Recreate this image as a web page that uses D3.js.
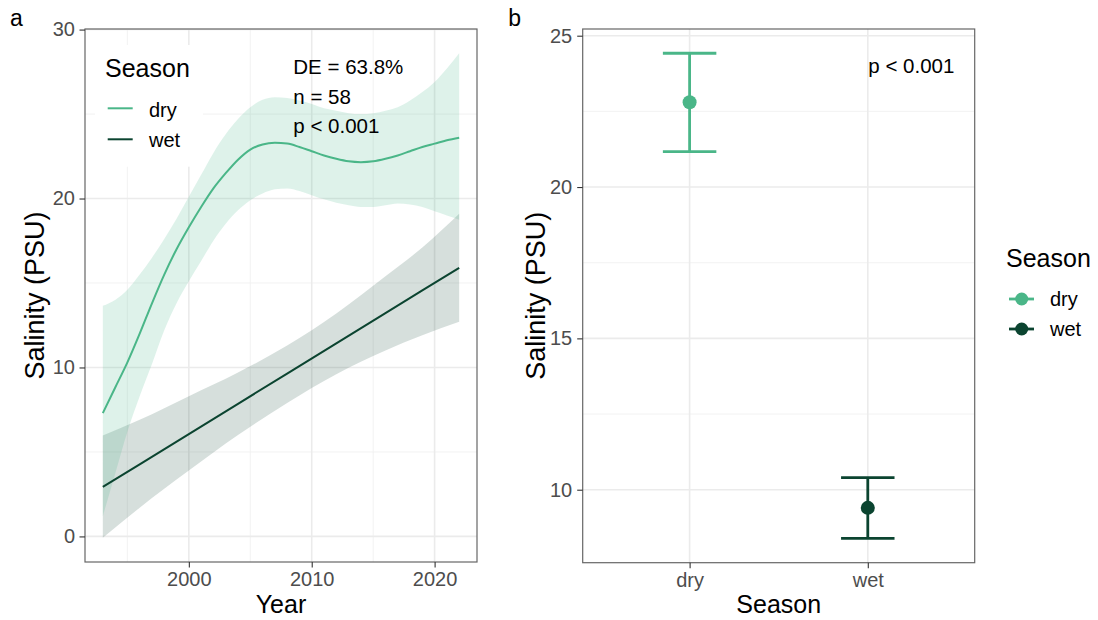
<!DOCTYPE html>
<html>
<head>
<meta charset="utf-8">
<script src="https://cdn.jsdelivr.net/npm/d3@7"></script>
<style>
  body { margin: 0; background: #fff; }
  svg text { font-family: "Liberation Sans", Arial, sans-serif; }
</style>
</head>
<body>
<div id="chart"></div>
<script>
// ---- panel a: salinity trend by year (loess for dry, linear for wet) ----
const years = [1993, 1994, 1995, 1996, 1997, 1998, 1999, 2000, 2001, 2002,
               2003, 2004, 2005, 2006, 2007, 2008, 2009, 2010, 2011, 2012,
               2013, 2014, 2015, 2016, 2017, 2018, 2019, 2020, 2021, 2022];
const dryFit = [7.3, 8.8, 10.3, 12.0, 13.8, 15.5, 17.0, 18.3, 19.5, 20.6,
                21.5, 22.3, 22.9, 23.2, 23.3, 23.25, 23.05, 22.8, 22.55, 22.35,
                22.2, 22.15, 22.2, 22.35, 22.55, 22.8, 23.05, 23.25, 23.45, 23.6];
const dryLower = [1.2, 3.7, 6.2, 8.3, 10.2, 12.2, 13.8, 15.1, 16.3, 17.5,
                  18.5, 19.3, 19.9, 20.3, 20.55, 20.6, 20.45, 20.2, 19.95, 19.75,
                  19.6, 19.5, 19.5, 19.6, 19.7, 19.65, 19.5, 19.25, 19.0, 18.75];
const dryUpper = [13.65, 14.0, 14.6, 15.5, 16.5, 17.6, 18.8, 20.1, 21.4, 22.7,
                  23.8, 24.7, 25.4, 25.85, 26.0, 25.95, 25.8, 25.6, 25.35, 25.2,
                  25.05, 25.0, 25.05, 25.2, 25.4, 25.8, 26.3, 26.9, 27.7, 28.6];

const wetYears = [1993, 1996, 2000, 2004, 2008, 2012, 2016, 2019, 2022];
const wetFit = [2.93, 4.27, 6.06, 7.85, 9.64, 11.43, 13.22, 14.56, 15.9];
const wetLower = [-0.08, 1.7, 3.9, 6.0, 7.9, 9.6, 11.0, 11.9, 12.7];
const wetUpper = [5.97, 6.9, 8.3, 9.7, 11.3, 13.2, 15.4, 17.1, 19.1];

const yearTicks = [2000, 2010, 2020];
const yearMinor = [1995, 2005, 2015];
const salTicksA = [0, 10, 20, 30];
const salMinorA = [5, 15, 25];
const statsA = ["DE = 63.8%", "n = 58", "p < 0.001"];

// ---- panel b: seasonal mean with error bars ----
const seasons = ["dry", "wet"];
const seasonMean = [22.8, 9.4];
const seasonLow = [21.17, 8.39];
const seasonHigh = [24.42, 10.4];
const salTicksB = [10, 15, 20, 25];
const salMinorB = [12.5, 17.5, 22.5];
const statsB = "p < 0.001";

const colors = {dry: "#4AB688", wet: "#0B4430"};

const W = 1098, H = 620;
const svg = d3.select("#chart").append("svg")
    .attr("width", W)
    .attr("height", H);

// 5% expansion like ggplot
function expand(ext, f) {
    const d = (ext[1] - ext[0]) * f;
    return [ext[0] - d, ext[1] + d];
}

function styleAxis(g) {
    g.select(".domain").remove();
    g.selectAll("line").attr("stroke", "#333").attr("stroke-width", 1.1);
    g.selectAll("text").attr("fill", "#4D4D4D").attr("font-size", 20);
}

function grid(box, xs, ys, xMajor, xMinor, yMajor, yMinor) {
    const g = svg.append("g");
    xMinor.forEach(v => g.append("line")
        .attr("x1", xs(v)).attr("x2", xs(v)).attr("y1", box.top).attr("y2", box.bottom)
        .attr("stroke", "#F0F0F0").attr("stroke-width", 0.9));
    yMinor.forEach(v => g.append("line")
        .attr("x1", box.left).attr("x2", box.right).attr("y1", ys(v)).attr("y2", ys(v))
        .attr("stroke", "#F0F0F0").attr("stroke-width", 0.9));
    xMajor.forEach(v => g.append("line")
        .attr("x1", xs(v)).attr("x2", xs(v)).attr("y1", box.top).attr("y2", box.bottom)
        .attr("stroke", "#EBEBEB").attr("stroke-width", 1.6));
    yMajor.forEach(v => g.append("line")
        .attr("x1", box.left).attr("x2", box.right).attr("y1", ys(v)).attr("y2", ys(v))
        .attr("stroke", "#EBEBEB").attr("stroke-width", 1.6));
}

function border(box) {
    svg.append("rect")
        .attr("x", box.left).attr("y", box.top)
        .attr("width", box.right - box.left).attr("height", box.bottom - box.top)
        .attr("fill", "none").attr("stroke", "#666").attr("stroke-width", 1.2);
}

// ================= panel a =================
const a = {left: 85, top: 29, right: 477, bottom: 562};

let xA = d3.scaleLinear()
    .domain(expand(d3.extent(years), 0.05))
    .range([a.left, a.right]);
let yA = d3.scaleLinear()
    .domain(expand([d3.min(dryLower.concat(wetLower)), d3.max(dryUpper.concat(wetUpper))], 0.05))
    .range([a.bottom, a.top]);

grid(a, xA, yA, yearTicks, yearMinor, salTicksA, salMinorA);

// ribbons
svg.append("path")
    .datum(wetYears)
    .attr("d", d3.area()
        .x(d => xA(d))
        .y0((d, i) => yA(wetLower[i]))
        .y1((d, i) => yA(wetUpper[i]))
        .curve(d3.curveMonotoneX))
    .attr("fill", colors.wet)
    .attr("fill-opacity", 0.17);

svg.append("path")
    .datum(years)
    .attr("d", d3.area()
        .x(d => xA(d))
        .y0((d, i) => yA(dryLower[i]))
        .y1((d, i) => yA(dryUpper[i]))
        .curve(d3.curveMonotoneX))
    .attr("fill", colors.dry)
    .attr("fill-opacity", 0.18);

// fitted lines
svg.append("path")
    .datum(wetYears)
    .attr("d", d3.line()
        .x(d => xA(d))
        .y((d, i) => yA(wetFit[i])))
    .attr("fill", "none")
    .attr("stroke", colors.wet)
    .attr("stroke-width", 2);

svg.append("path")
    .datum(years)
    .attr("d", d3.line()
        .x(d => xA(d))
        .y((d, i) => yA(dryFit[i]))
        .curve(d3.curveMonotoneX))
    .attr("fill", "none")
    .attr("stroke", colors.dry)
    .attr("stroke-width", 2);

border(a);

svg.append("g")
    .attr("transform", "translate(0," + a.bottom + ")")
    .call(d3.axisBottom(xA).tickValues(yearTicks).tickFormat(d3.format("d")).tickSize(5.5).tickPadding(4.3))
    .call(styleAxis);
svg.append("g")
    .attr("transform", "translate(" + a.left + ",0)")
    .call(d3.axisLeft(yA).tickValues(salTicksA).tickFormat(d3.format("d")).tickSize(5.5).tickPadding(4.5))
    .call(styleAxis);

// legend inside panel a
svg.append("rect")
    .attr("x", 95).attr("y", 45).attr("width", 108).attr("height", 121.7)
    .attr("fill", "#fff");
svg.append("text")
    .attr("x", 105).attr("y", 77.3)
    .attr("font-size", 25)
    .text("Season");
seasons.forEach(function(s, i) {
    svg.append("line")
        .attr("x1", 107.7).attr("x2", 132.7)
        .attr("y1", 108.3 + i * 31).attr("y2", 108.3 + i * 31)
        .attr("stroke", colors[s]).attr("stroke-width", 2);
    svg.append("text")
        .attr("x", 149).attr("y", 116.7 + i * 30.6)
        .attr("font-size", 20)
        .text(s);
});

// stats text
statsA.forEach(function(t, i) {
    svg.append("text")
        .attr("x", 293.3).attr("y", 74 + i * 29.7)
        .attr("font-size", 20.5)
        .text(t);
});

// titles
svg.append("text")
    .attr("x", (a.left + a.right) / 2).attr("y", 613.3)
    .attr("text-anchor", "middle").attr("font-size", 25)
    .text("Year");
svg.append("text")
    .attr("transform", "translate(43.5," + (a.top + a.bottom) / 2 + ") rotate(-90)")
    .attr("text-anchor", "middle").attr("font-size", 27)
    .text("Salinity (PSU)");
svg.append("text")
    .attr("x", 10).attr("y", 25.7)
    .attr("font-size", 23)
    .text("a");

// ================= panel b =================
const b = {left: 582.7, top: 29, right: 974.7, bottom: 562.7};

let xB = d3.scalePoint()
    .domain(seasons)
    .range([b.left, b.right])
    .padding(0.6);
let yB = d3.scaleLinear()
    .domain(expand([d3.min(seasonLow), d3.max(seasonHigh)], 0.05))
    .range([b.bottom, b.top]);

grid(b, xB, yB, seasons, [], salTicksB, salMinorB);

const capHalf = xB.step() * 0.15;
seasons.forEach(function(s, i) {
    const g = svg.append("g").attr("stroke", colors[s]).attr("stroke-width", 2.8);
    g.append("line")
        .attr("x1", xB(s)).attr("x2", xB(s))
        .attr("y1", yB(seasonLow[i])).attr("y2", yB(seasonHigh[i]));
    [seasonLow[i], seasonHigh[i]].forEach(v => g.append("line")
        .attr("x1", xB(s) - capHalf).attr("x2", xB(s) + capHalf)
        .attr("y1", yB(v)).attr("y2", yB(v)));
    svg.append("circle")
        .attr("cx", xB(s)).attr("cy", yB(seasonMean[i]))
        .attr("r", 7)
        .attr("fill", colors[s]);
});

border(b);

svg.append("g")
    .attr("transform", "translate(0," + b.bottom + ")")
    .call(d3.axisBottom(xB).tickSize(5.5).tickPadding(4.3))
    .call(styleAxis);
svg.append("g")
    .attr("transform", "translate(" + b.left + ",0)")
    .call(d3.axisLeft(yB).tickValues(salTicksB).tickFormat(d3.format("d")).tickSize(5.5).tickPadding(5))
    .call(styleAxis);

svg.append("text")
    .attr("x", 868.3).attr("y", 73.3)
    .attr("font-size", 20.5)
    .text(statsB);

svg.append("text")
    .attr("x", (b.left + b.right) / 2).attr("y", 613.3)
    .attr("text-anchor", "middle").attr("font-size", 25)
    .text("Season");
svg.append("text")
    .attr("transform", "translate(545," + (b.top + b.bottom) / 2 + ") rotate(-90)")
    .attr("text-anchor", "middle").attr("font-size", 27)
    .text("Salinity (PSU)");
svg.append("text")
    .attr("x", 508.3).attr("y", 25.7)
    .attr("font-size", 23)
    .text("b");

// legend for panel b
svg.append("text")
    .attr("x", 1006).attr("y", 266.7)
    .attr("font-size", 25)
    .text("Season");
seasons.forEach(function(s, i) {
    const cy = 299 + i * 30;
    svg.append("line")
        .attr("x1", 1009).attr("x2", 1034)
        .attr("y1", cy).attr("y2", cy)
        .attr("stroke", colors[s]).attr("stroke-width", 2.8);
    svg.append("circle")
        .attr("cx", 1021.7).attr("cy", cy).attr("r", 6.5)
        .attr("fill", colors[s]);
    svg.append("text")
        .attr("x", 1050).attr("y", cy + 7)
        .attr("font-size", 20)
        .text(s);
});
</script>
</body>
</html>
